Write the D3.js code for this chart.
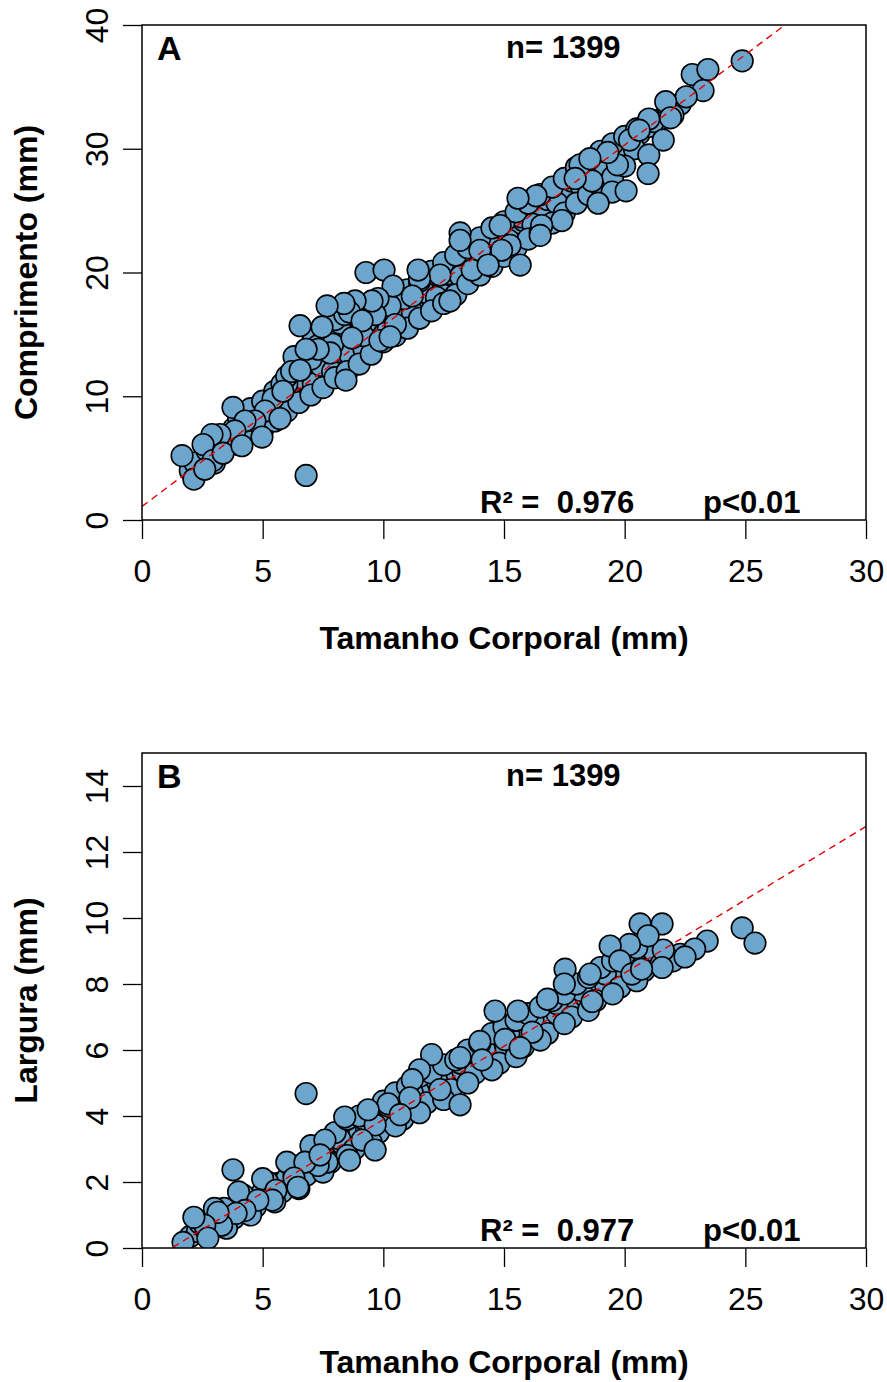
<!DOCTYPE html>
<html>
<head>
<meta charset="utf-8">
<script src="https://cdn.jsdelivr.net/npm/d3@7"></script>
<style>
	body { margin: 0; background: #fff; }
	text { font-family: "Liberation Sans", Arial, sans-serif; fill: #000; }
	.bold { font-weight: bold; }
</style>
</head>
<body>
<svg id="chart" width="887" height="1382"></svg>
<script>
// Painel A: tamanho corporal x comprimento (mm)
const pointsA = [
	[2.0, 4.0], [2.3, 4.5], [2.5, 4.9], [2.8, 5.3], [3.0, 5.6], [3.2, 5.9], [3.4, 6.1], [3.5, 6.4],
	[3.7, 6.6], [3.9, 6.9], [4.0, 7.0], [4.2, 7.3], [4.4, 7.6], [4.5, 7.9], [4.7, 8.0], [4.9, 8.3],
	[5.0, 8.5], [5.2, 8.8], [5.4, 9.0], [5.5, 9.3], [5.7, 9.4], [5.9, 9.8], [6.0, 9.9], [6.2, 10.2],
	[6.4, 10.5], [6.6, 10.7], [6.8, 11.0], [7.0, 11.4], [7.2, 11.6], [7.4, 11.9], [7.6, 12.3], [7.8, 12.5],
	[8.0, 12.8], [8.3, 13.2], [8.5, 13.6], [8.8, 14.0], [9.0, 14.2], [9.3, 14.8], [9.5, 15.0], [9.8, 15.4],
	[10.0, 15.8], [10.3, 16.2], [10.5, 16.4], [10.8, 16.9], [11.0, 17.2], [11.3, 17.6], [11.5, 17.9], [11.8, 18.3],
	[12.0, 18.6], [12.3, 19.0], [12.5, 19.4], [12.8, 19.8], [13.0, 20.1], [13.3, 20.5], [13.5, 20.8], [13.8, 21.3],
	[14.0, 21.5], [14.3, 22.0], [14.5, 22.3], [14.8, 22.7], [15.0, 23.0], [15.3, 23.5], [15.5, 23.7], [15.8, 24.2],
	[16.0, 24.5], [16.3, 24.9], [16.6, 25.3], [17.0, 25.9], [17.3, 26.4], [17.6, 26.8], [18.0, 27.4], [18.3, 27.8],
	[18.7, 28.4], [19.0, 28.9], [19.4, 29.4], [19.8, 30.0], [20.2, 30.6], [20.6, 31.2], [21.0, 31.8], [21.4, 32.3],
	[21.8, 33.0], [22.3, 33.6],
	[2.2, 4.6], [2.7, 5.6], [3.3, 6.5], [3.8, 7.4], [4.3, 7.0], [4.8, 8.9], [5.3, 8.3], [5.8, 9.9],
	[6.1, 10.6], [6.3, 9.6], [6.7, 11.4], [7.1, 11.0], [7.4, 12.5], [7.9, 12.0], [8.1, 13.6], [8.6, 13.4],
	[8.9, 14.6], [9.2, 13.8], [9.7, 15.8], [10.2, 15.4], [10.7, 16.6], [11.2, 16.8], [11.7, 18.4], [12.2, 18.0],
	[12.7, 19.9], [13.2, 19.7], [13.7, 21.5], [14.2, 21.1], [14.7, 22.9], [15.2, 22.6], [15.7, 24.5], [16.2, 23.9],
	[16.8, 25.9], [17.2, 25.6], [17.8, 27.4], [18.2, 27.0], [18.8, 29.0], [19.2, 28.4], [19.9, 30.3], [20.4, 30.0],
	[21.2, 32.2], [22.0, 32.7],
	[3.0, 4.6], [4.0, 6.1], [5.0, 7.3], [5.5, 8.0], [6.0, 8.8], [6.5, 9.5], [7.0, 10.1], [7.5, 10.7],
	[8.0, 11.5], [8.5, 12.0], [9.0, 12.6], [9.5, 13.4], [10.0, 14.4], [10.5, 14.9], [11.0, 15.5], [11.5, 16.3],
	[12.0, 16.9], [12.5, 17.5], [13.0, 18.2], [13.5, 19.1], [14.0, 19.8], [14.5, 20.5], [15.0, 21.3], [15.5, 22.0],
	[16.0, 22.7], [16.5, 23.3], [17.0, 24.0], [17.5, 24.8], [18.0, 25.6], [18.5, 26.3], [19.0, 27.0], [19.5, 27.7],
	[20.0, 28.6], [21.0, 29.5],
	[3.0, 6.8], [4.0, 8.3], [4.5, 9.0], [5.0, 9.6], [5.5, 10.4], [6.0, 11.0], [6.5, 12.2], [7.0, 13.0],
	[7.5, 14.0], [8.0, 14.8], [8.5, 15.5], [9.0, 16.3], [9.5, 16.9], [10.0, 17.5], [10.5, 18.2], [11.0, 18.6],
	[11.5, 19.3], [12.0, 20.1], [12.5, 20.8], [13.0, 21.4], [13.5, 22.0], [14.0, 22.8], [14.5, 23.6], [15.0, 24.1],
	[15.5, 24.9], [16.0, 25.6], [16.5, 26.3], [17.0, 26.9], [17.5, 27.6], [18.0, 28.5], [18.5, 29.1], [19.0, 29.8],
	[19.5, 30.4], [20.0, 31.0], [20.5, 31.6], [21.0, 32.4],
	[6.3, 13.2], [6.9, 13.9], [7.1, 14.6], [7.7, 15.0], [8.2, 15.9], [8.9, 16.7], [9.6, 17.2], [8.0, 16.2], [7.3, 14.1],
	[5.8, 11.0], [6.0, 11.6], [6.2, 12.0], [8.4, 16.6], [9.3, 16.0], [9.9, 16.8], [7.9, 14.2],
	[1.66, 5.2], [2.15, 3.3], [6.8, 3.6], [3.77, 9.1], [6.55, 15.7], [9.28, 20.0], [10.03, 20.2], [24.87, 37.1],
	[22.8, 36.0], [23.45, 36.4], [23.25, 34.7], [22.55, 34.2], [21.7, 33.8], [21.9, 32.5], [21.6, 30.7], [20.97, 28.0],
	[19.48, 26.5], [18.9, 25.6], [20.06, 26.6], [19.7, 28.7], [19.3, 29.7], [20.2, 30.7], [20.6, 31.5], [18.65, 27.4],
	[18.15, 28.7], [18.56, 29.2], [17.95, 27.6], [17.4, 24.2], [16.56, 23.8], [16.5, 23.0], [16.33, 26.2], [15.58, 26.0],
	[15.67, 20.6], [15.25, 22.2], [14.84, 23.8], [14.9, 21.8], [13.18, 23.2], [13.18, 22.6], [13.68, 20.2], [14.0, 21.8],
	[14.34, 20.6], [12.76, 17.7], [12.35, 19.8], [11.5, 19.5], [11.44, 20.2], [10.86, 17.9], [11.2, 18.1], [10.28, 17.3],
	[10.4, 18.9], [9.78, 17.9], [9.66, 16.6], [9.53, 17.7], [8.83, 17.7], [8.6, 16.8], [8.37, 17.5], [7.67, 17.3],
	[7.46, 15.6], [7.8, 13.5], [8.45, 11.3], [7.3, 13.8], [6.8, 13.8], [9.16, 14.9], [9.12, 16.1], [8.7, 14.7],
	[9.86, 14.5], [10.5, 15.8], [10.28, 14.8], [6.55, 12.1], [5.43, 9.8], [5.84, 10.4], [5.1, 8.8], [4.68, 8.0],
	[4.27, 8.0], [3.85, 7.2], [3.23, 6.9], [2.9, 6.9], [2.53, 6.1], [2.94, 4.8], [2.6, 4.1], [3.36, 5.4],
	[4.97, 6.7], [5.72, 8.2], [4.14, 6.0]
];

// Painel B: tamanho corporal x largura (mm)
const pointsB = [
	[2.0, 0.35], [2.3, 0.5], [2.6, 0.6], [3.0, 0.8], [3.3, 0.95], [3.6, 1.05], [4.0, 1.25], [4.3, 1.35],
	[4.6, 1.5], [5.0, 1.7], [5.3, 1.8], [5.6, 1.95], [6.0, 2.1], [6.3, 2.25], [6.6, 2.4], [7.0, 2.55],
	[7.3, 2.7], [7.6, 2.85], [8.0, 3.0], [8.3, 3.15], [8.6, 3.3], [9.0, 3.45], [9.3, 3.6], [9.6, 3.75],
	[10.0, 3.9], [10.3, 4.05], [10.6, 4.15], [11.0, 4.35], [11.3, 4.5], [11.6, 4.6], [12.0, 4.8], [12.3, 4.95],
	[12.6, 5.05], [13.0, 5.25], [13.3, 5.35], [13.6, 5.5], [14.0, 5.7], [14.3, 5.8], [14.6, 5.95], [15.0, 6.1],
	[15.3, 6.25], [15.6, 6.35], [16.0, 6.55], [16.4, 6.7], [16.8, 6.9], [17.2, 7.1], [17.6, 7.25], [18.0, 7.45],
	[18.4, 7.6], [18.8, 7.8], [19.2, 8.0], [19.6, 8.15], [20.0, 8.35], [20.5, 8.55], [21.0, 8.8], [21.5, 9.0],
	[2.4, 0.75], [2.8, 0.55], [3.4, 1.2], [3.8, 0.9], [4.2, 1.6], [4.7, 1.25], [5.2, 2.0], [5.8, 1.7],
	[6.2, 2.5], [6.8, 2.2], [7.2, 3.0], [7.8, 2.6], [8.2, 3.3], [8.8, 3.0], [9.2, 3.9], [9.8, 3.5],
	[10.2, 4.3], [10.8, 3.9], [11.2, 4.7], [11.8, 4.4], [12.2, 5.1], [12.8, 4.8], [13.2, 5.6], [13.8, 5.3],
	[14.2, 6.0], [14.8, 5.6], [15.2, 6.5], [15.8, 6.1], [16.2, 6.9], [16.8, 6.5], [17.2, 7.4], [17.8, 7.0],
	[18.2, 7.8], [18.8, 7.5], [19.2, 8.3], [19.8, 7.9], [20.2, 8.7], [20.8, 8.4], [21.2, 9.0], [22.3, 8.9],
	[3.0, 1.2], [4.0, 1.7], [5.0, 2.1], [6.0, 2.6], [7.0, 3.1], [8.0, 3.5], [8.5, 3.9], [9.0, 4.0],
	[10.0, 4.45], [10.5, 4.7], [11.0, 4.9], [11.5, 5.2], [12.0, 5.3], [12.5, 5.55], [13.0, 5.7], [13.5, 6.0],
	[14.0, 6.2], [14.5, 6.5], [15.0, 6.7], [15.5, 6.9], [16.0, 7.1], [16.5, 7.3], [17.0, 7.5], [17.5, 7.7],
	[18.0, 8.0], [18.5, 8.2], [19.0, 8.5], [19.5, 8.7], [20.0, 8.9], [20.5, 9.1],
	[3.5, 0.6], [4.5, 1.0], [5.5, 1.4], [6.5, 1.8], [7.5, 2.3], [8.5, 2.8], [9.5, 3.2], [10.5, 3.7],
	[11.5, 4.1], [12.5, 4.5], [13.5, 5.0], [14.5, 5.4], [15.5, 5.8], [16.5, 6.3], [17.5, 6.8], [18.5, 7.2],
	[19.5, 7.7], [20.5, 8.1], [21.5, 8.6], [22.0, 8.7],
	[3.77, 2.37], [6.8, 4.68], [24.87, 9.7], [25.4, 9.24], [23.42, 9.3], [22.9, 9.06], [22.5, 8.82], [21.6, 9.03],
	[21.55, 8.5], [20.64, 9.82], [21.55, 9.82], [20.97, 9.46], [20.2, 9.2], [19.4, 9.15], [19.8, 8.7], [20.3, 8.3],
	[20.7, 8.45], [18.57, 8.3], [17.53, 8.45], [18.65, 7.47], [17.5, 8.0], [16.8, 7.54], [14.63, 7.18], [15.58, 7.18],
	[16.17, 6.54], [15.04, 6.32], [15.67, 6.07], [14.0, 6.26], [14.09, 5.7], [13.18, 5.77], [13.18, 4.34], [12.0, 5.86],
	[11.5, 5.4], [11.2, 5.1], [12.35, 4.8], [11.1, 4.55], [10.2, 4.37], [10.7, 4.04], [9.66, 3.73], [9.37, 4.19],
	[9.12, 3.27], [9.66, 2.97], [8.6, 2.66], [8.4, 3.97], [7.58, 3.27], [7.67, 2.6], [7.3, 2.5], [6.75, 2.6],
	[6.3, 2.12], [5.55, 1.75], [5.4, 1.45], [4.8, 1.45], [4.27, 1.14], [3.9, 1.05], [3.3, 0.69], [3.15, 1.08],
	[2.6, 0.69], [2.15, 0.93], [1.7, 0.17], [2.73, 0.3], [6.46, 1.84], [7.38, 2.82]
];

const xTicks = [0, 5, 10, 15, 20, 25, 30];
const yTicksA = [0, 10, 20, 30, 40];
const yTicksB = [0, 2, 4, 6, 8, 10, 12, 14];

// ajuste linear (intercepto, inclinacao)
const fitA = [1.1, 1.46];
const fitB = [-0.546, 0.444];

const panels = [
	{ id: "A", points: pointsA, yTicks: yTicksA, yMax: 40, fit: fitA, top: 25, yLabel: "Comprimento (mm)", r2: "0.976" },
	{ id: "B", points: pointsB, yTicks: yTicksB, yMax: 15, fit: fitB, top: 753, yLabel: "Largura (mm)", r2: "0.977" }
];

const svg = d3.select("#chart");
const left = 142, right = 866, plotH = 495;
const tickLen = 19;

function drawPanel(p) {
	const bottom = p.top + plotH;
	const x = d3.scaleLinear().domain([0, 30]).range([left, right]);
	const y = d3.scaleLinear().domain([0, p.yMax]).range([bottom, p.top]);
	const g = svg.append("g").attr("class", "panel-" + p.id);

	g.append("clipPath").attr("id", "clip-" + p.id)
		.append("rect")
		.attr("x", left).attr("y", p.top)
		.attr("width", right - left).attr("height", plotH);

	// pontos
	g.append("g").attr("clip-path", `url(#clip-${p.id})`)
		.selectAll("circle")
		.data(p.points)
		.enter()
		.append("circle")
		.attr("cx", d => x(d[0]))
		.attr("cy", d => y(d[1]))
		.attr("r", 10.8)
		.attr("fill", "#6CA6CD")
		.attr("stroke", "#000")
		.attr("stroke-width", 1.6);

	// linha de regressao
	const line = d3.line().x(d => x(d)).y(d => y(p.fit[0] + p.fit[1] * d));
	g.append("path")
		.attr("clip-path", `url(#clip-${p.id})`)
		.attr("d", line([0, 30]))
		.attr("fill", "none")
		.attr("stroke", "#e00000")
		.attr("stroke-width", 1.4)
		.attr("stroke-dasharray", "7,5");

	// eixos
	const xAxis = d3.axisBottom(x).tickValues(xTicks).tickSize(tickLen).tickPadding(10);
	const gx = g.append("g").attr("transform", `translate(0,${bottom})`).call(xAxis);
	gx.select(".domain").remove();
	gx.selectAll("line").attr("stroke", "#000").attr("stroke-width", 1.3);
	gx.selectAll("text").style("font-size", "32px").attr("dy", "0.82em")
		.attr("y", 36).style("font-family", "Liberation Sans, Arial, sans-serif");

	const yAxis = d3.axisLeft(y).tickValues(p.yTicks).tickSize(tickLen);
	const gy = g.append("g").attr("transform", `translate(${left},0)`).call(yAxis);
	gy.select(".domain").remove();
	gy.selectAll("line").attr("stroke", "#000").attr("stroke-width", 1.3);
	gy.selectAll("text")
		.style("font-size", "32px")
		.style("font-family", "Liberation Sans, Arial, sans-serif")
		.attr("text-anchor", "middle")
		.attr("dy", 0)
		.attr("x", 0).attr("y", 0)
		.attr("transform", "translate(-34,0) rotate(-90)");

	// caixa
	g.append("rect")
		.attr("x", left).attr("y", p.top)
		.attr("width", right - left).attr("height", plotH)
		.attr("fill", "none").attr("stroke", "#000").attr("stroke-width", 1.5);

	// textos
	g.append("text").attr("class", "bold").attr("x", 157).attr("y", p.top + 35)
		.style("font-size", "34px").text(p.id);
	g.append("text").attr("class", "bold").attr("x", 506).attr("y", p.top + 33)
		.style("font-size", "31px").text("n= 1399");
	g.append("text").attr("class", "bold").attr("x", 480).attr("y", bottom - 7)
		.style("font-size", "31px").style("white-space", "pre").text("R\u00b2 =  " + p.r2);
	g.append("text").attr("class", "bold").attr("x", 703).attr("y", bottom - 7)
		.style("font-size", "31px").text("p<0.01");

	g.append("text").attr("class", "bold")
		.attr("x", (left + right) / 2).attr("y", Math.min(bottom + 129, 1373))
		.attr("text-anchor", "middle").style("font-size", "32px")
		.text("Tamanho Corporal (mm)");
	g.append("text").attr("class", "bold")
		.attr("transform", `translate(37,${p.top + plotH / 2}) rotate(-90)`)
		.attr("text-anchor", "middle").style("font-size", "32px")
		.text(p.yLabel);
}

panels.forEach(drawPanel);
</script>
</body>
</html>
